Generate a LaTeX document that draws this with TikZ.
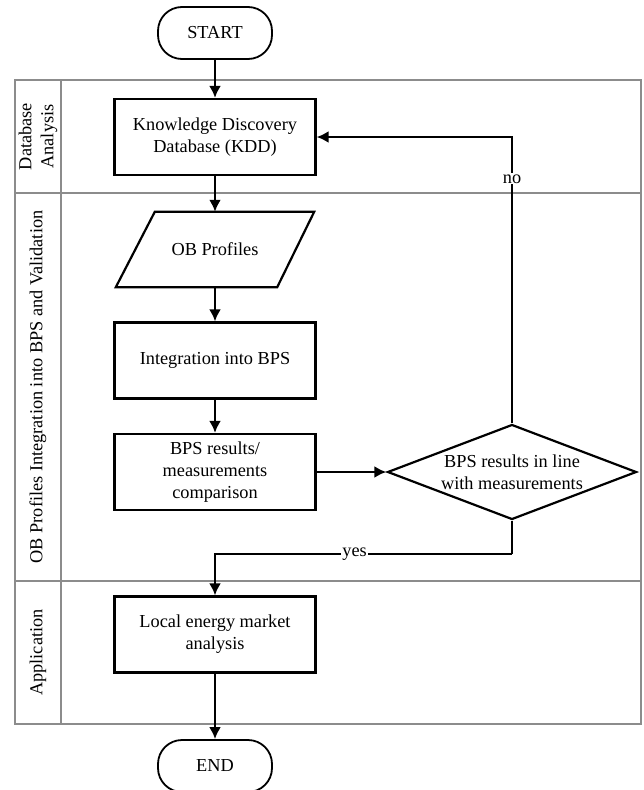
\documentclass[tikz,border=0pt]{standalone}
\usepackage{fontspec}
\setmainfont{Liberation Serif}
\usetikzlibrary{arrows.meta,shapes.geometric}
\begin{document}
\begin{tikzpicture}[x=1pt,y=-1pt,
  txt/.style={font=\fontsize{18.3}{22}\selectfont},
  lane/.style={draw=black!45, line width=1.3pt},
  procbox/.style={txt, draw, line width=2.2pt, minimum width=201pt, minimum height=76pt, align=center, inner sep=0pt},
  termbox/.style={txt, draw, line width=1.8pt, rounded corners=24pt, minimum width=114pt, minimum height=52pt, inner sep=0pt},
  flow/.style={line width=2.8pt, -{Latex[length=12pt,width=12pt]}},
  plainflow/.style={line width=2.8pt},
  lbl/.style={txt, fill=white, inner sep=1pt},
  lanelbl/.style={txt, rotate=90, align=center, inner sep=0pt},
  ]
\useasboundingbox (0,0) rectangle (644,790);
% swimlanes
\draw[lane] (15,80) rectangle (641,724);
\draw[lane] (61,80) -- (61,724);
\draw[lane] (15,193) -- (641,193);
\draw[lane] (15,581) -- (641,581);
\node[lanelbl] (l1) at (38,136.5) {Database\\Analysis};
\node[lanelbl] (l2) at (38,387) {OB Profiles Integration into BPS and Validation};
\node[lanelbl] (l3) at (38,652.5) {Application};
% nodes
\node[termbox] (start) at (215,33) {START};
\node[procbox] (kdd) at (215,137) {Knowledge Discovery\\Database (KDD)};
\node[txt, minimum width=198pt, minimum height=75pt, inner sep=0pt] (ob) at (215,249.5) {OB Profiles};
\draw[line width=2.2pt, line join=miter] (ob.south west) -- ([xshift=39pt]ob.north west) -- (ob.north east) -- ([xshift=-37pt]ob.south east) -- cycle;
\node[procbox] (integ) at (215,360.5) {Integration into BPS};
\node[procbox] (comp) at (215,472) {BPS results/\\measurements\\comparison};
\node[txt, diamond, draw, line width=2.2pt, aspect=2.62, minimum width=249pt, minimum height=95pt, inner sep=0pt, align=center] (dia) at (512,472) {BPS results in line\\with measurements};
\node[procbox] (local) at (215,634.5) {Local energy market\\analysis};
\node[termbox] (end) at (215,766) {END};
\coordinate (ycorner) at (512,554);
% connectors
\draw[flow] (start) -- (kdd);
\draw[flow] (kdd) -- (ob.north);
\draw[flow] (ob.south -| integ) -- (integ);
\draw[flow] (integ) -- (comp);
\draw[flow] (comp.east) -- (dia.west);
\draw[flow] (dia.north) |- node[lbl, pos=0.427] {no} (kdd.east);
\draw[plainflow] (dia.south) -- (ycorner);
\draw[flow] (ycorner) -| node[lbl, pos=0.265] {yes} (local.north);
\draw[flow] (local) -- (end);
\end{tikzpicture}
\end{document}
